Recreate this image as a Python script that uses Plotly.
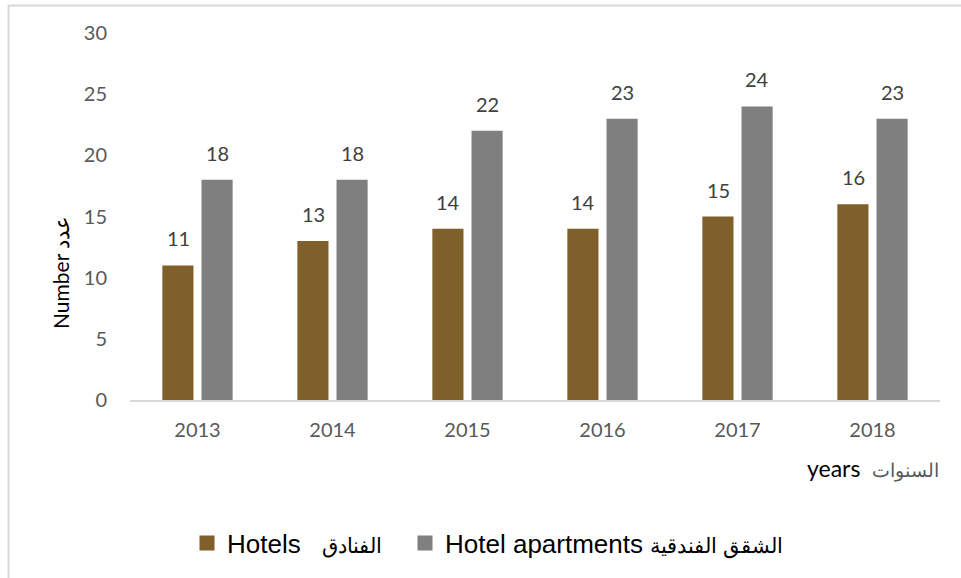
import plotly.graph_objects as go

years = ["2013", "2014", "2015", "2016", "2017", "2018"]
hotels = [11, 13, 14, 14, 15, 16]
apartments = [18, 18, 22, 23, 24, 23]
y_ticks = [0, 5, 10, 15, 20, 25, 30]

name_hotels = "Hotels\u00a0\u00a0 <span style='font-size:21px'>الفنادق</span>"
name_apts = "Hotel apartments <span style='font-size:21px'>الشقق الفندقية</span>"

BROWN = "#7F602B"
GRAY = "#7F7F7F"

W, H = 961, 578
L, R, T, B = 130, 21, 33, 178
pw, ph = W - L - R, H - T - B

def px_x(p):
    return (p - L) / pw

def px_y(p):
    return (H - B - p) / ph

fig = go.Figure()
fig.add_trace(go.Bar(x=years, y=hotels, name=name_hotels, marker_color=BROWN,
                     marker_line_width=0, showlegend=False))
fig.add_trace(go.Bar(x=years, y=apartments, name=name_apts, marker_color=GRAY,
                     marker_line_width=0, showlegend=False))
# legend entries with square swatches
for nm, col, lg in ((name_hotels, BROWN, "legend"), (name_apts, GRAY, "legend2")):
    fig.add_trace(go.Scatter(x=[None], y=[None], mode="markers", name=nm,
                             legend=lg,
                             marker=dict(symbol="square", size=15, color=col)))

annotations = []
for i, yr in enumerate(years):
    for vals, shift in ((hotels, -19.5), (apartments, 19.5)):
        annotations.append(dict(
            x=i, y=vals[i], xref="x", yref="y", text=str(vals[i]),
            showarrow=False, xshift=shift, xanchor="center",
            yanchor="bottom", yshift=13,
            font=dict(family="Lato", size=20, color="#404040")))

annotations.append(dict(
    x=px_x(60), y=px_y(273), xref="paper", yref="paper",
    xanchor="center", yanchor="middle",
    text="Number عدد", textangle=-90, showarrow=False,
    font=dict(family="Lato", size=21, color="#000000")))

annotations.append(dict(
    x=px_x(941), y=px_y(468), xref="paper", yref="paper",
    xanchor="right", yanchor="middle",
    text="<span style='color:#000000'>years</span>\u00a0\u00a0<span style='color:#595959;font-size:19px'>السنوات</span>",
    showarrow=False,
    font=dict(family="Lato", size=23, color="#000000")))

legend_font = dict(family="Liberation Sans", size=26, color="#000000")

fig.update_layout(
    width=W, height=H,
    margin=dict(l=L, r=R, t=T, b=B),
    paper_bgcolor="white", plot_bgcolor="white",
    barmode="group", bargap=0.42, bargroupgap=0.205,
    showlegend=True,
    legend=dict(orientation="h", x=px_x(187), xanchor="left",
                y=px_y(543), yanchor="middle", bgcolor="rgba(0,0,0,0)",
                font=legend_font, itemwidth=30),
    legend2=dict(orientation="h", x=px_x(405), xanchor="left",
                 y=px_y(543), yanchor="middle", bgcolor="rgba(0,0,0,0)",
                 font=legend_font, itemwidth=30),
    xaxis=dict(type="category", range=[-0.5, len(years) - 0.5],
               showgrid=False, showline=True,
               linecolor="#D9D9D9", linewidth=1.5,
               ticks="", ticklabelstandoff=11,
               tickfont=dict(family="Lato", size=20, color="#595959")),
    yaxis=dict(range=[0, 30], tickvals=y_ticks, showgrid=False, showline=False,
               zeroline=False, ticks="", ticklabelstandoff=22,
               tickfont=dict(family="Lato", size=20, color="#595959")),
    annotations=annotations,
    shapes=[dict(type="rect", xref="paper", yref="paper",
                 x0=px_x(8.5), x1=px_x(975), y0=px_y(590), y1=px_y(5.5),
                 line=dict(color="#D9D9D9", width=2), layer="below")],
)

fig.write_html("out.html", config={"displayModeBar": False},
               post_script="document.body.style.margin='0px';")
